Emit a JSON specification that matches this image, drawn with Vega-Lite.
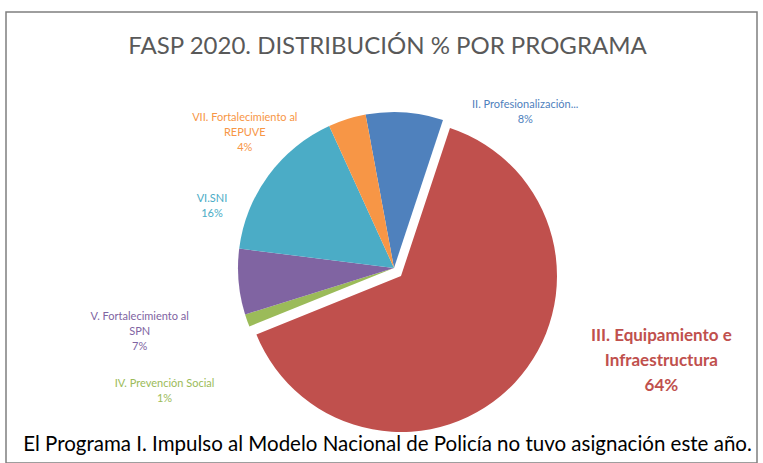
{
  "$schema": "https://vega.github.io/schema/vega-lite/v6.json",
  "autosize": "none",
  "padding": {"left": 6, "top": 12, "right": 6, "bottom": 0},
  "width": 751,
  "height": 451,
  "background": "white",
  "view": {"stroke": "#7f7f7f", "strokeWidth": 1.5},
  "title": {
    "text": "FASP 2020. DISTRIBUCIÓN % POR PROGRAMA",
    "subtitle": "El Programa I. Impulso al Modelo Nacional de Policía no tuvo asignación este año.",
    "orient": "top",
    "anchor": "middle",
    "frame": "group",
    "offset": -462,
    "baseline": "alphabetic",
    "dy": 0,
    "dx": 6,
    "font": "Lato",
    "fontSize": 24,
    "fontWeight": "normal",
    "color": "#595959",
    "subtitleFont": "Lato",
    "subtitleFontSize": 20.5,
    "subtitleColor": "#000000",
    "subtitlePadding": 373
  },
  "data": {
    "values": [
      {"cat": "II", "name": "II. Profesionalización...", "value": 8.0, "order": 1},
      {"cat": "III", "name": "III. Equipamiento e\nInfraestructura", "value": 63.8, "order": 2},
      {"cat": "IV", "name": "IV. Prevención Social", "value": 1.3, "order": 3},
      {"cat": "V", "name": "V. Fortalecimiento al\nSPN", "value": 6.8, "order": 4},
      {"cat": "VI", "name": "VI.SNI", "value": 16.2, "order": 5},
      {"cat": "VII", "name": "VII. Fortalecimiento al\nREPUVE", "value": 3.9, "order": 6}
    ]
  },
  "transform": [
    {"calculate": "datum.name + '\\n' + format(datum.value, '.0f') + '%'", "as": "label"}
  ],
  "encoding": {
    "theta": {"field": "value", "type": "quantitative", "stack": true, "scale": {"range": [-0.1833, 6.0999]}},
    "order": {"field": "order", "type": "quantitative"},
    "color": {
      "field": "cat",
      "type": "nominal",
      "scale": {
        "domain": ["II", "III", "IV", "V", "VI", "VII"],
        "range": ["#4F81BD", "#C0504D", "#9BBB59", "#8064A2", "#4BACC6", "#F79646"]
      },
      "legend": null
    }
  },
  "layer": [
    {
      "mark": {"type": "arc", "outerRadius": 156, "xOffset": 12.5, "yOffset": 30.5},
      "encoding": {
        "opacity": {"condition": {"test": "datum.cat === 'III'", "value": 0}, "value": 1}
      }
    },
    {
      "mark": {"type": "arc", "outerRadius": 156, "xOffset": 19.5, "yOffset": 38.5},
      "encoding": {
        "opacity": {"condition": {"test": "datum.cat === 'III'", "value": 1}, "value": 0}
      }
    },
    {
      "mark": {
        "type": "text",
        "radius": 180,
        "xOffset": 12.5,
        "yOffset": 30.5,
        "font": "Lato",
        "fontSize": 11,
        "lineHeight": 15,
        "lineBreak": "\n",
        "align": "center",
        "baseline": "middle",
        "dx": {"expr": "datum.cat === 'II' ? 119 : datum.cat === 'VII' ? -95 : datum.cat === 'VI' ? -37 : datum.cat === 'V' ? -75 : datum.cat === 'IV' ? -60 : 0"},
        "dy": {"expr": "datum.cat === 'II' ? 17 : datum.cat === 'VII' ? 22 : datum.cat === 'VI' ? 38 : datum.cat === 'V' ? 33 : datum.cat === 'IV' ? 55 : 0"}
      },
      "encoding": {
        "text": {"field": "label"},
        "opacity": {"condition": {"test": "datum.cat === 'III'", "value": 0}, "value": 1}
      }
    },
    {
      "mark": {
        "type": "text",
        "radius": 180,
        "xOffset": 12.5,
        "yOffset": 30.5,
        "font": "Lato",
        "fontSize": 17,
        "fontWeight": "bold",
        "lineHeight": 25,
        "lineBreak": "\n",
        "align": "center",
        "baseline": "middle",
        "dx": 136,
        "dy": -55
      },
      "encoding": {
        "text": {"field": "label"},
        "opacity": {"condition": {"test": "datum.cat === 'III'", "value": 1}, "value": 0}
      }
    }
  ]
}
